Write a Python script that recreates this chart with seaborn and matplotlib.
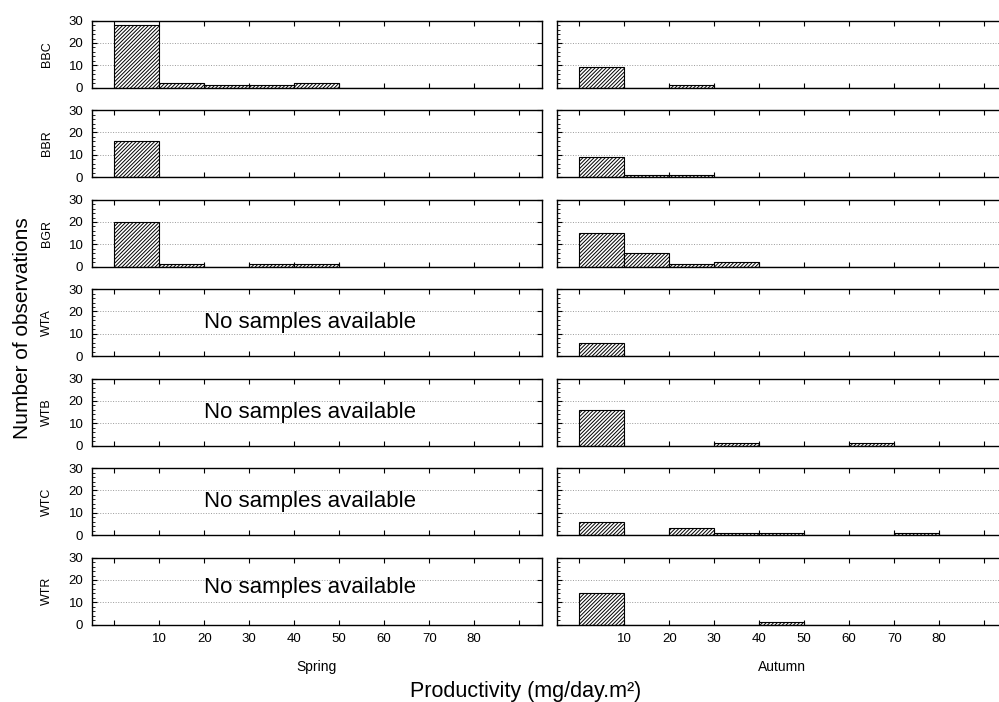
import numpy as np
import seaborn as sns
import matplotlib.pyplot as plt
from matplotlib.ticker import MultipleLocator, FixedLocator, FixedFormatter

# histogram bins (mg/day.m2)
bin_edges = [0, 10, 20, 30, 40, 50, 60, 70, 80, 90]
stations = ["BBC", "BBR", "BGR", "WTA", "WTB", "WTC", "WTR"]

# counts per bin, spring (None = no samples)
spring_bbc = [28, 2, 1, 1, 2, 0, 0, 0, 0]
spring_bbr = [16, 0, 0, 0, 0, 0, 0, 0, 0]
spring_bgr = [20, 1, 0, 1, 1, 0, 0, 0, 0]
spring_wta = None
spring_wtb = None
spring_wtc = None
spring_wtr = None

# counts per bin, autumn
autumn_bbc = [9, 0, 1, 0, 0, 0, 0, 0, 0]
autumn_bbr = [9, 1, 1, 0, 0, 0, 0, 0, 0]
autumn_bgr = [15, 6, 1, 2, 0, 0, 0, 0, 0]
autumn_wta = [6, 0, 0, 0, 0, 0, 0, 0, 0]
autumn_wtb = [16, 0, 0, 1, 0, 0, 1, 0, 0]
autumn_wtc = [6, 0, 3, 1, 1, 0, 0, 1, 0]
autumn_wtr = [14, 0, 0, 0, 1, 0, 0, 0, 0]

spring = [spring_bbc, spring_bbr, spring_bgr, spring_wta, spring_wtb, spring_wtc, spring_wtr]
autumn = [autumn_bbc, autumn_bbr, autumn_bgr, autumn_wta, autumn_wtb, autumn_wtc, autumn_wtr]

xtick_labels = ["", "10", "20", "30", "40", "50", "60", "70", "80", ""]

sns.set_style("ticks")
plt.rcParams["font.family"] = ["Liberation Sans", "DejaVu Sans"]
plt.rcParams["hatch.linewidth"] = 0.7
for key in ["text.color", "axes.labelcolor", "xtick.color", "ytick.color", "axes.edgecolor"]:
    plt.rcParams[key] = "black"

W, H = 999, 702
fig = plt.figure(figsize=(W / 100, H / 100), dpi=100)

centers = np.array(bin_edges[:-1]) + 5

def draw_panel(ax, counts, last_row, left_col):
    if counts is not None:
        sns.histplot(x=centers, weights=counts, bins=bin_edges, ax=ax,
                     color="white", edgecolor="black", linewidth=0.8,
                     alpha=1, hatch="/////////")
    ax.set_xlim(-5, 95)
    ax.set_ylim(0, 30)
    ax.set_ylabel("")
    ax.set_xlabel("")
    ax.xaxis.set_major_locator(FixedLocator(bin_edges))
    if last_row:
        ax.xaxis.set_major_formatter(FixedFormatter(xtick_labels))
    else:
        ax.set_xticklabels([])
    ax.yaxis.set_major_locator(MultipleLocator(10))
    ax.yaxis.set_minor_locator(MultipleLocator(2))
    ax.tick_params(axis="both", which="major", direction="in", length=3.5,
                   width=0.8, top=True, right=True, labelsize=9.5, pad=6)
    ax.tick_params(axis="y", which="minor", direction="in", length=2,
                   width=0.6, right=False)
    if not left_col:
        ax.set_yticklabels([])
    ax.grid(axis="y", which="major", linestyle=":", color="#9a9a9a", linewidth=0.7)
    ax.set_axisbelow(True)
    for s in ax.spines.values():
        s.set_linewidth(1.0)

left_x, right_x, ax_w = 91.7, 556.7, 450
top0, step, ax_h = 20.7, 89.5, 66.8

for i, name in enumerate(stations):
    top = top0 + i * step
    bottom = 1 - (top + ax_h) / H
    axl = fig.add_axes([left_x / W, bottom, ax_w / W, ax_h / H])
    axr = fig.add_axes([right_x / W, bottom, ax_w / W, ax_h / H])
    last = i == len(stations) - 1
    draw_panel(axl, spring[i], last, True)
    draw_panel(axr, autumn[i], last, False)
    axl.text(-0.1, 0.5, name, rotation=90, transform=axl.transAxes,
             ha="center", va="center", fontsize=9)
    if spring[i] is None:
        ty = 16.5 if last else 15
        axl.text(43.6, ty, "No samples available",
                 ha="center", va="center", fontsize=16)

fig.text(316.7 / W, 1 - 667 / H, "Spring", ha="center", va="center", fontsize=10)
fig.text(781.7 / W, 1 - 667 / H, "Autumn", ha="center", va="center", fontsize=10)
fig.text(525.5 / W, 1 - 692 / H, "Productivity (mg/day.m²)", ha="center",
         va="center", fontsize=15.5)
fig.text(22.7 / W, 1 - 328 / H, "Number of observations", rotation=90,
         ha="center", va="center", fontsize=15)

fig.savefig("out.png", dpi=100)
